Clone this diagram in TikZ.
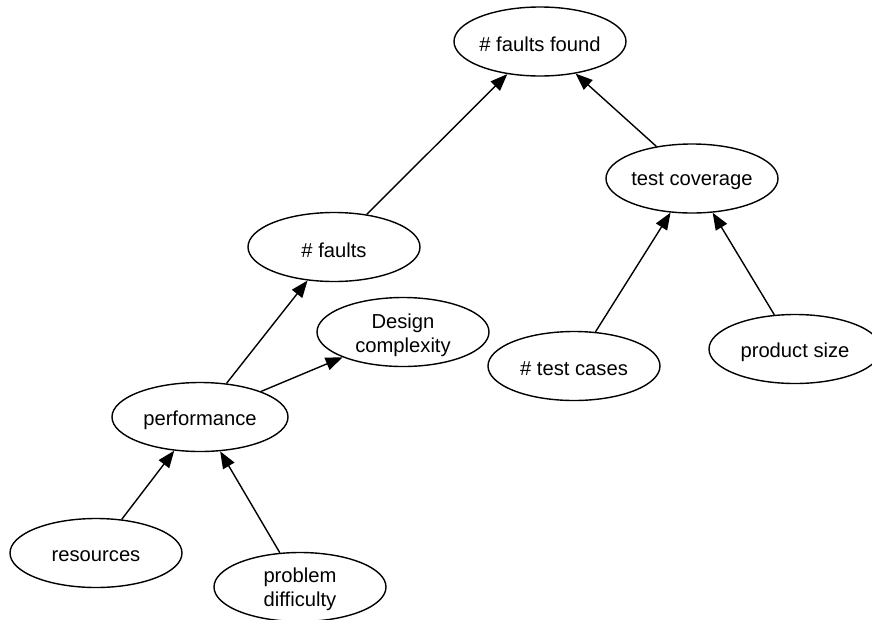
\documentclass[tikz,border=0pt]{standalone}
\usepackage{fontspec}
\setmainfont{Liberation Sans}
\usetikzlibrary{shapes.geometric,arrows.meta}
\tikzset{
  ell/.style={draw, ellipse, line width=1.4pt, minimum width=172pt, minimum height=69pt,
    inner sep=0pt},
  lbl/.style={yshift=-3pt, align=center, inner sep=0pt, font=\fontsize{20.2}{24}\selectfont},
  link/.style={line width=1.4pt, -{Triangle[length=17pt,width=13pt]}}
}
\begin{document}
\begin{tikzpicture}[x=1pt,y=-1pt]
\useasboundingbox (0,0) rectangle (872,619);
\clip (0,0) rectangle (872,619);
\node[ell, label={[lbl]center:\# faults found}] (F) at (540,41.5) {};
\node[ell, label={[lbl]center:test coverage}] (TC) at (692,178.5) {};
\node[ell, label={[lbl]center:\# faults}] (NF) at (334,247) {};
\node[ell, label={[lbl]center:{Design\\complexity}}] (DC) at (403,332) {};
\node[ell, label={[lbl]center:\# test cases}] (TCS) at (574,366) {};
\node[ell, label={[lbl]center:product size}] (PS) at (795,349) {};
\node[ell, minimum width=176pt, label={[lbl]center:performance}] (P) at (200,417) {};
\node[ell, label={[lbl]center:resources}] (R) at (96,553) {};
\node[ell, label={[lbl,yshift=1pt]center:{problem\\difficulty}}] (PD) at (300,587) {};
\draw[link] (NF) -- (F);
\draw[link] (TC) -- (F);
\draw[link] (TCS) -- (TC);
\draw[link] (PS) -- (TC);
\draw[link] (P) -- (NF);
\draw[link] (P) -- (DC);
\draw[link] (R) -- (P);
\draw[link] (PD) -- (P);
\end{tikzpicture}
\end{document}
